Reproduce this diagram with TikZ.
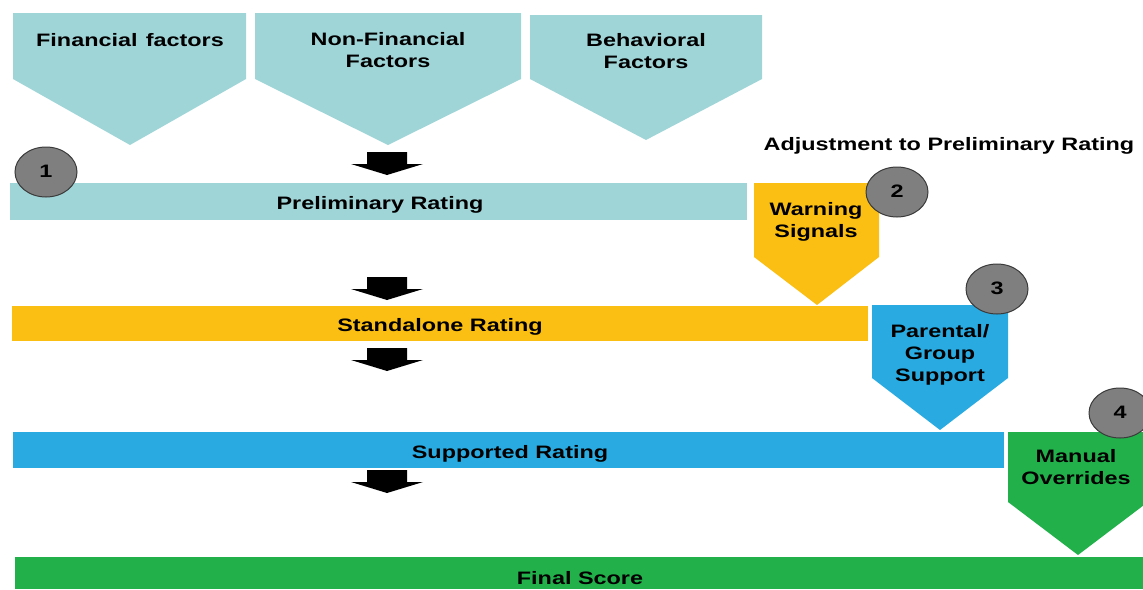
\documentclass[tikz,border=0pt]{standalone}
\usepackage{fontspec}
\setmainfont{Liberation Sans}
\usepackage{graphicx}
\usetikzlibrary{shapes.geometric}
\definecolor{cteal}{HTML}{A0D5D8}
\definecolor{cyellow}{HTML}{FBBF14}
\definecolor{cblue}{HTML}{29ABE2}
\definecolor{cgreen}{HTML}{22B04B}
\definecolor{cgray}{HTML}{7F7F7F}
\definecolor{cedge}{HTML}{3A3A3A}
\newcommand\wtxt[1]{\scalebox{1.3}[1]{\begin{tabular}{@{}c@{}}#1\end{tabular}}}
\begin{document}
\begin{tikzpicture}[x=1pt,y=-1pt,
  lbl/.style={font=\bfseries\fontsize{18}{22}\selectfont, text=black, inner sep=0pt},
  numlbl/.style={font=\bfseries\fontsize{18}{20}\selectfont, text=black, inner sep=0pt},
  badge/.style={ellipse, draw=cedge, fill=cgray, line width=1pt, minimum width=62pt, minimum height=50pt, inner sep=0pt},
  bararrow/.pic={\fill[black] (-20,0) -- (20,0) -- (20,12) -- (36,12) -- (0,23) -- (-36,12) -- (-20,12) -- cycle;}
]
\useasboundingbox (0,0) rectangle (1143,589);
\clip (0,0) rectangle (1143,589);

% top factor chevrons
\fill[cteal] (13,13) -- (246,13) -- (246,79) -- (130,145) -- (13,79) -- cycle;
\fill[cteal] (255,13) -- (521,13) -- (521,79) -- (388,145) -- (255,79) -- cycle;
\fill[cteal] (530,15) -- (762,15) -- (762,79) -- (646,140) -- (530,79) -- cycle;
\node[lbl] (fin) at (130,42) {\wtxt{Financial\hspace{0.35em}factors}};
\node[lbl] (nonfin) at (388,52) {\wtxt{Non-Financial\\Factors}};
\node[lbl] (beh) at (646,53) {\wtxt{Behavioral\\Factors}};

% bars
\fill[cteal] (10,183) rectangle (747,220);
\fill[cyellow] (12,306) rectangle (868,341);
\fill[cblue] (13,432) rectangle (1004,468);
\fill[cgreen] (15,557) rectangle (1143,589);
\node[lbl] (prelim) at (380,205) {\wtxt{Preliminary Rating}};
\node[lbl] (stand) at (440,327) {\wtxt{Standalone Rating}};
\node[lbl] (supp) at (510,454) {\wtxt{Supported Rating}};
\node[lbl] (final) at (580,580) {\wtxt{Final Score}};

% block arrows
\pic at (387,152) {bararrow};
\pic at (387,277) {bararrow};
\pic at (387,348) {bararrow};
\pic at (387,470) {bararrow};

% adjustment title
\node[lbl] (adj) at (949,146) {\wtxt{Adjustment to Preliminary Rating}};

% side chevrons
\fill[cyellow] (754,183) -- (879,183) -- (879,257) -- (817,305) -- (754,257) -- cycle;
\fill[cblue] (872,305) -- (1008,305) -- (1008,378) -- (940,430) -- (872,378) -- cycle;
\fill[cgreen] (1008,432) -- (1148,432) -- (1148,502) -- (1078,555) -- (1008,502) -- cycle;
\node[lbl] (warn) at (816,222) {\wtxt{Warning\\Signals}};
\node[lbl] (par) at (940,355) {\wtxt{Parental/\\Group\\Support}};
\node[lbl] (man) at (1076,469) {\wtxt{Manual\\Overrides}};

% numbered badges
\node[badge] (b1) at (46,172) {};
\node[badge] (b2) at (897,192) {};
\node[badge] (b3) at (997,289) {};
\node[badge] (b4) at (1120,413) {};
\node[numlbl] at ([yshift=-1pt]b1) {\wtxt{1}};
\node[numlbl] at ([yshift=-1pt]b2) {\wtxt{2}};
\node[numlbl] at ([yshift=-1pt]b3) {\wtxt{3}};
\node[numlbl] at ([yshift=-1pt]b4) {\wtxt{4}};
\end{tikzpicture}
\end{document}
